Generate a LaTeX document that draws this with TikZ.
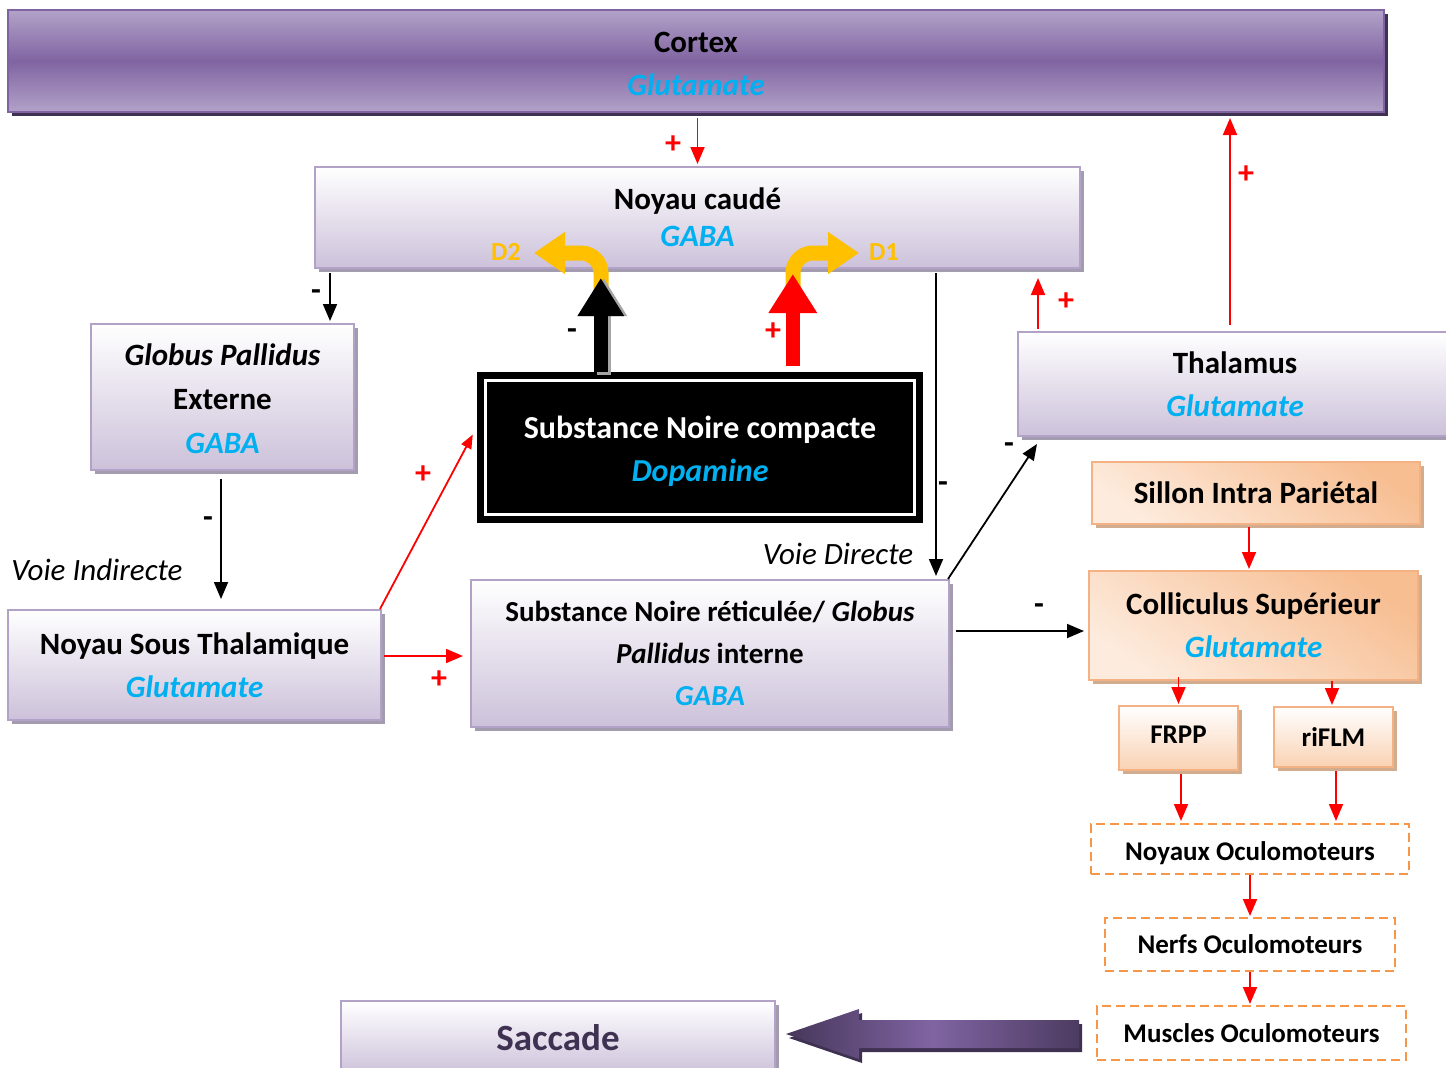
\documentclass[tikz,border=0pt]{standalone}
\usepackage{fontspec}
\setmainfont{Carlito}
\usetikzlibrary{arrows.meta,shadows,calc}
\definecolor{lavB}{HTML}{B3A2C7}
\definecolor{lavF}{HTML}{CCC1DA}
\definecolor{lavS}{HTML}{A39CAE}
\definecolor{purD}{HTML}{8064A2}
\definecolor{purL}{HTML}{B2A2C8}
\definecolor{purS}{HTML}{3F3151}
\definecolor{cy}{HTML}{00B0F0}
\definecolor{orB}{HTML}{F4B183}
\definecolor{orD}{HTML}{F7BE92}
\definecolor{orL}{HTML}{FDEBDD}
\definecolor{orS}{HTML}{D2AC8E}
\definecolor{orDash}{HTML}{F79646}
\definecolor{yel}{HTML}{FFC000}
\definecolor{redA}{HTML}{FF0000}
\tikzset{
  lav/.style={draw=lavB, line width=2pt, top color=white, bottom color=lavF,
    drop shadow={shadow xshift=4pt, shadow yshift=-4pt, fill=lavS, opacity=1},
    align=center, inner sep=0pt, font=\fontsize{31}{43}\selectfont\bfseries},
  orbox/.style={draw=orB, line width=2pt, top color=orD, bottom color=orL, shading angle=-35,
    drop shadow={shadow xshift=4pt, shadow yshift=-4pt, fill=orS, opacity=1},
    align=center, inner sep=0pt, font=\fontsize{31}{43}\selectfont\bfseries},
  smallor/.style={draw=orB, line width=2pt, top color=white, bottom color=orD!70!white,
    drop shadow={shadow xshift=4pt, shadow yshift=-4pt, fill=orS, opacity=1},
    align=center, inner sep=0pt, font=\fontsize{27}{30}\selectfont\bfseries},
  dbox/.style={draw=orDash, line width=2pt, dash pattern=on 9pt off 5pt,
    align=center, inner sep=0pt, font=\fontsize{27}{30}\selectfont\bfseries},
  ra/.style={draw=redA, line width=1.8pt, -{Triangle[width=14pt,length=17pt]}},
  ba/.style={draw=black, line width=1.8pt, -{Triangle[width=14pt,length=17pt]}},
  plus/.style={text=redA, font=\fontsize{32}{32}\selectfont\bfseries, inner sep=0pt},
  minus/.style={text=black, font=\fontsize{32}{32}\selectfont\bfseries, inner sep=0pt},
  voie/.style={font=\fontsize{31}{31}\selectfont\itshape, inner sep=0pt},
  dlab/.style={text=yel, font=\fontsize{26}{26}\selectfont\bfseries, inner sep=0pt},
  yarr/.style={draw=yel, line width=15pt, rounded corners=20pt, -{Triangle[width=40pt,length=31pt]}},
}
\newcommand{\gl}[1]{{\color{cy}\itshape #1}}
\begin{document}
\begin{tikzpicture}[x=1pt,y=-1pt]
\useasboundingbox (0,0) rectangle (1446,1068);

% Cortex
\node[draw=purD, line width=2pt, top color=purL, bottom color=purL, middle color=purD,
  drop shadow={shadow xshift=4pt, shadow yshift=-4pt, fill=purS, opacity=1},
  minimum width=1376pt, minimum height=102pt, align=center, inner sep=0pt,
  font=\fontsize{31}{43}\selectfont\bfseries] (cortex) at (696,61) {\rule{0pt}{27pt}Cortex\\\gl{Glutamate}};

% Noyau caude
\node[lav, minimum width=765pt, minimum height=101pt] (caud) at (697.5,217.5)
  {Noyau caudé\\[-6pt]\gl{GABA}};

% GPe
\node[lav, minimum width=263pt, minimum height=146pt, font=\fontsize{31}{44}\selectfont\bfseries] (gpe) at (222.5,397)
  {\rule{0pt}{26pt}\textit{Globus Pallidus}\\Externe\\\gl{GABA}};

% NST
\node[lav, minimum width=373pt, minimum height=110pt] (nst) at (194.5,665)
  {Noyau Sous Thalamique\\\gl{Glutamate}};

% SNr / GPi
\node[lav, minimum width=478pt, minimum height=147pt, font=\fontsize{29}{42}\selectfont\bfseries] (snr) at (710,653.5)
  {Substance Noire réticulée/ \textit{Globus}\\\textit{Pallidus} interne\\\gl{GABA}};

% Thalamus
\node[lav, minimum width=434pt, minimum height=104pt] (thal) at (1235,384)
  {Thalamus\\\gl{Glutamate}};

% Saccade
\node[lav, minimum width=434pt, minimum height=74pt, font=\fontsize{37}{37}\selectfont\bfseries, text=purS] (sacc) at (558,1038)
  {\raisebox{1pt}{Saccade}};

% SNc
\node[fill=black, minimum width=446pt, minimum height=151pt, align=center, inner sep=0pt,
  text=white, font=\fontsize{32}{43}\selectfont\bfseries] (snc) at (700,447.5)
  {\rule{0pt}{31pt}Substance Noire compacte\\\gl{Dopamine}};
\draw[white, line width=3pt] ([shift={(9pt,-9pt)}]snc.north west) rectangle ([shift={(-9pt,9pt)}]snc.south east);

% Orange boxes
\node[orbox, minimum width=328pt, minimum height=62pt] (sip) at (1256,493) {Sillon Intra Pariétal};
\node[orbox, minimum width=329pt, minimum height=109pt] (coll) at (1253.5,625.5) {Colliculus Supérieur\\\gl{Glutamate}};
\node[smallor, minimum width=119pt, minimum height=64pt] (frpp) at (1178.5,738) {FRPP\rule[-6pt]{0pt}{0pt}};
\node[smallor, minimum width=119pt, minimum height=60pt] (riflm) at (1333.5,737) {riFLM};

% Dashed boxes
\node[dbox, minimum width=318pt, minimum height=50pt] (noyo) at (1250,849) {\rule{0pt}{28pt}Noyaux Oculomoteurs};
\node[dbox, minimum width=290pt, minimum height=53pt] (nerfs) at (1250,944.5) {Nerfs Oculomoteurs};
\node[dbox, minimum width=309pt, minimum height=54pt] (musc) at (1251.5,1033) {Muscles Oculomoteurs};

% Yellow D2 / D1 arrows
\draw[yarr] (601,296) -- (601,253) -- (534,253);
\draw[yarr] (793,296) -- (793,253) -- (859,253);
\node[dlab] (d2) at (506,252) {D2};
\node[dlab] (d1) at (884,252) {D1};

% Thick arrows from SNc
\draw[draw=gray!70, line width=14pt, -{Triangle[width=44pt,length=38pt]}, shorten >=9pt]
  ([shift={(127pt,-3pt)}]snc.north west) -- ([xshift=127pt]snc.north west |- caud.south);
\draw[draw=black, line width=14pt, -{Triangle[width=44pt,length=38pt]}, shorten >=9pt]
  ([xshift=124pt]snc.north west) -- ([xshift=124pt]snc.north west |- caud.south);
\draw[draw=redA, line width=14pt, -{Triangle[width=46pt,length=39pt]}, shorten >=5pt, shorten <=6pt]
  ([xshift=316pt]snc.north west) -- ([xshift=316pt]snc.north west |- caud.south);
\node[minus] (m3) at (572,334) {-};
\node[plus] (p6) at (773,332) {+};

% Connectors
\draw[ra, shorten <=5pt, shorten >=2pt] (cortex.south -| caud.north) -- (caud.north);
\node[plus] (p1) at (673,145) {+};
\draw[ra, shorten <=6pt, shorten >=5pt] ([xshift=-5pt]thal.north) -- ([xshift=-5pt]thal.north |- cortex.south);
\node[plus] (p2) at (1246,175) {+};
\draw[ra, shorten <=2pt, shorten >=9pt] ([xshift=21pt]thal.north west) -- ([xshift=21pt]thal.north west |- caud.south);
\node[plus] (p3) at (1066,302) {+};

\draw[ba, shorten <=4pt, shorten >=2pt] ([xshift=16pt]caud.south west) -- ([xshift=16pt]caud.south west |- gpe.north);
\node[minus] (m1) at (316,295) {-};
\draw[ba, shorten <=8pt, shorten >=10pt] ([xshift=-1.5pt]gpe.south) -- ([xshift=-1.5pt]gpe.south |- nst.north);
\node[minus] (m2) at (208,522) {-};
\node[voie] (vi) at (97,570) {Voie Indirecte};

\draw[ra, -{Triangle[width=11pt,length=14pt]}] ([xshift=-2pt]nst.north east) -- ([shift={(-4pt,13pt)}]snc.west);
\node[plus] (p4) at (423,475) {+};
\draw[ra, shorten <=2pt, shorten >=7pt] ([yshift=9pt]nst.east) -- ([yshift=9pt]nst.east -| snr.west);
\node[plus] (p5) at (439,680) {+};

\draw[ba, shorten <=4pt, shorten >=3pt] ([xshift=-145pt]caud.south east) -- ([xshift=-145pt]caud.south east |- snr.north);
\node[minus] (m4) at (943,487) {-};
\node[voie] (vd) at (838,554) {Voie Directe};
\draw[ba, -{Triangle[width=13pt,length=16pt]}] ([xshift=-2pt]snr.north east) -- ([shift={(20pt,-7pt)}]thal.south west);
\node[minus] (m5) at (1009,448) {-};
\draw[ba, shorten <=6pt, shorten >=4pt] ([yshift=22.5pt]snr.east) -- ([yshift=22.5pt]snr.east -| coll.west);
\node[minus] (m6) at (1039,609) {-};

\draw[ra, shorten <=2pt, shorten >=1pt] ([xshift=-7pt]sip.south) -- ([xshift=-7pt]sip.south |- coll.north);
\draw[ra, shorten <=-4pt, shorten >=1pt] (frpp.north |- coll.south) -- (frpp.north);
\draw[ra, shorten <=0pt, shorten >=1pt] ([xshift=-1.5pt]riflm.north |- coll.south) -- ([xshift=-1.5pt]riflm.north);
\draw[ra, shorten <=3pt, shorten >=2pt] ([xshift=2.5pt]frpp.south) -- ([xshift=2.5pt]frpp.south |- noyo.north);
\draw[ra, shorten <=3pt, shorten >=2pt] ([xshift=2.5pt]riflm.south) -- ([xshift=2.5pt]riflm.south |- noyo.north);
\draw[ra, shorten <=0pt, shorten >=1pt] (noyo.south) -- (noyo.south |- nerfs.north);
\draw[ra, shorten <=0pt, shorten >=1pt] (nerfs.south) -- (nerfs.south |- musc.north);

% Big purple arrow Muscles -> Saccade
\coordinate (bigT) at ([xshift=10pt,yshift=4pt]sacc.east);
\fill[purS] ($(bigT)+(3,4)$) -- ++(73,-25) -- ++(0,11) -- ++(220,0) -- ++(0,28) -- ++(-220,0) -- ++(0,11) -- cycle;
\shade[left color=purS!90!purD, right color=purS!80!purD, middle color=purD]
  (bigT) -- ++(73,-25) -- ++(0,11) -- ++(220,0) -- ++(0,28) -- ++(-220,0) -- ++(0,11) -- cycle;
\end{tikzpicture}
\end{document}
